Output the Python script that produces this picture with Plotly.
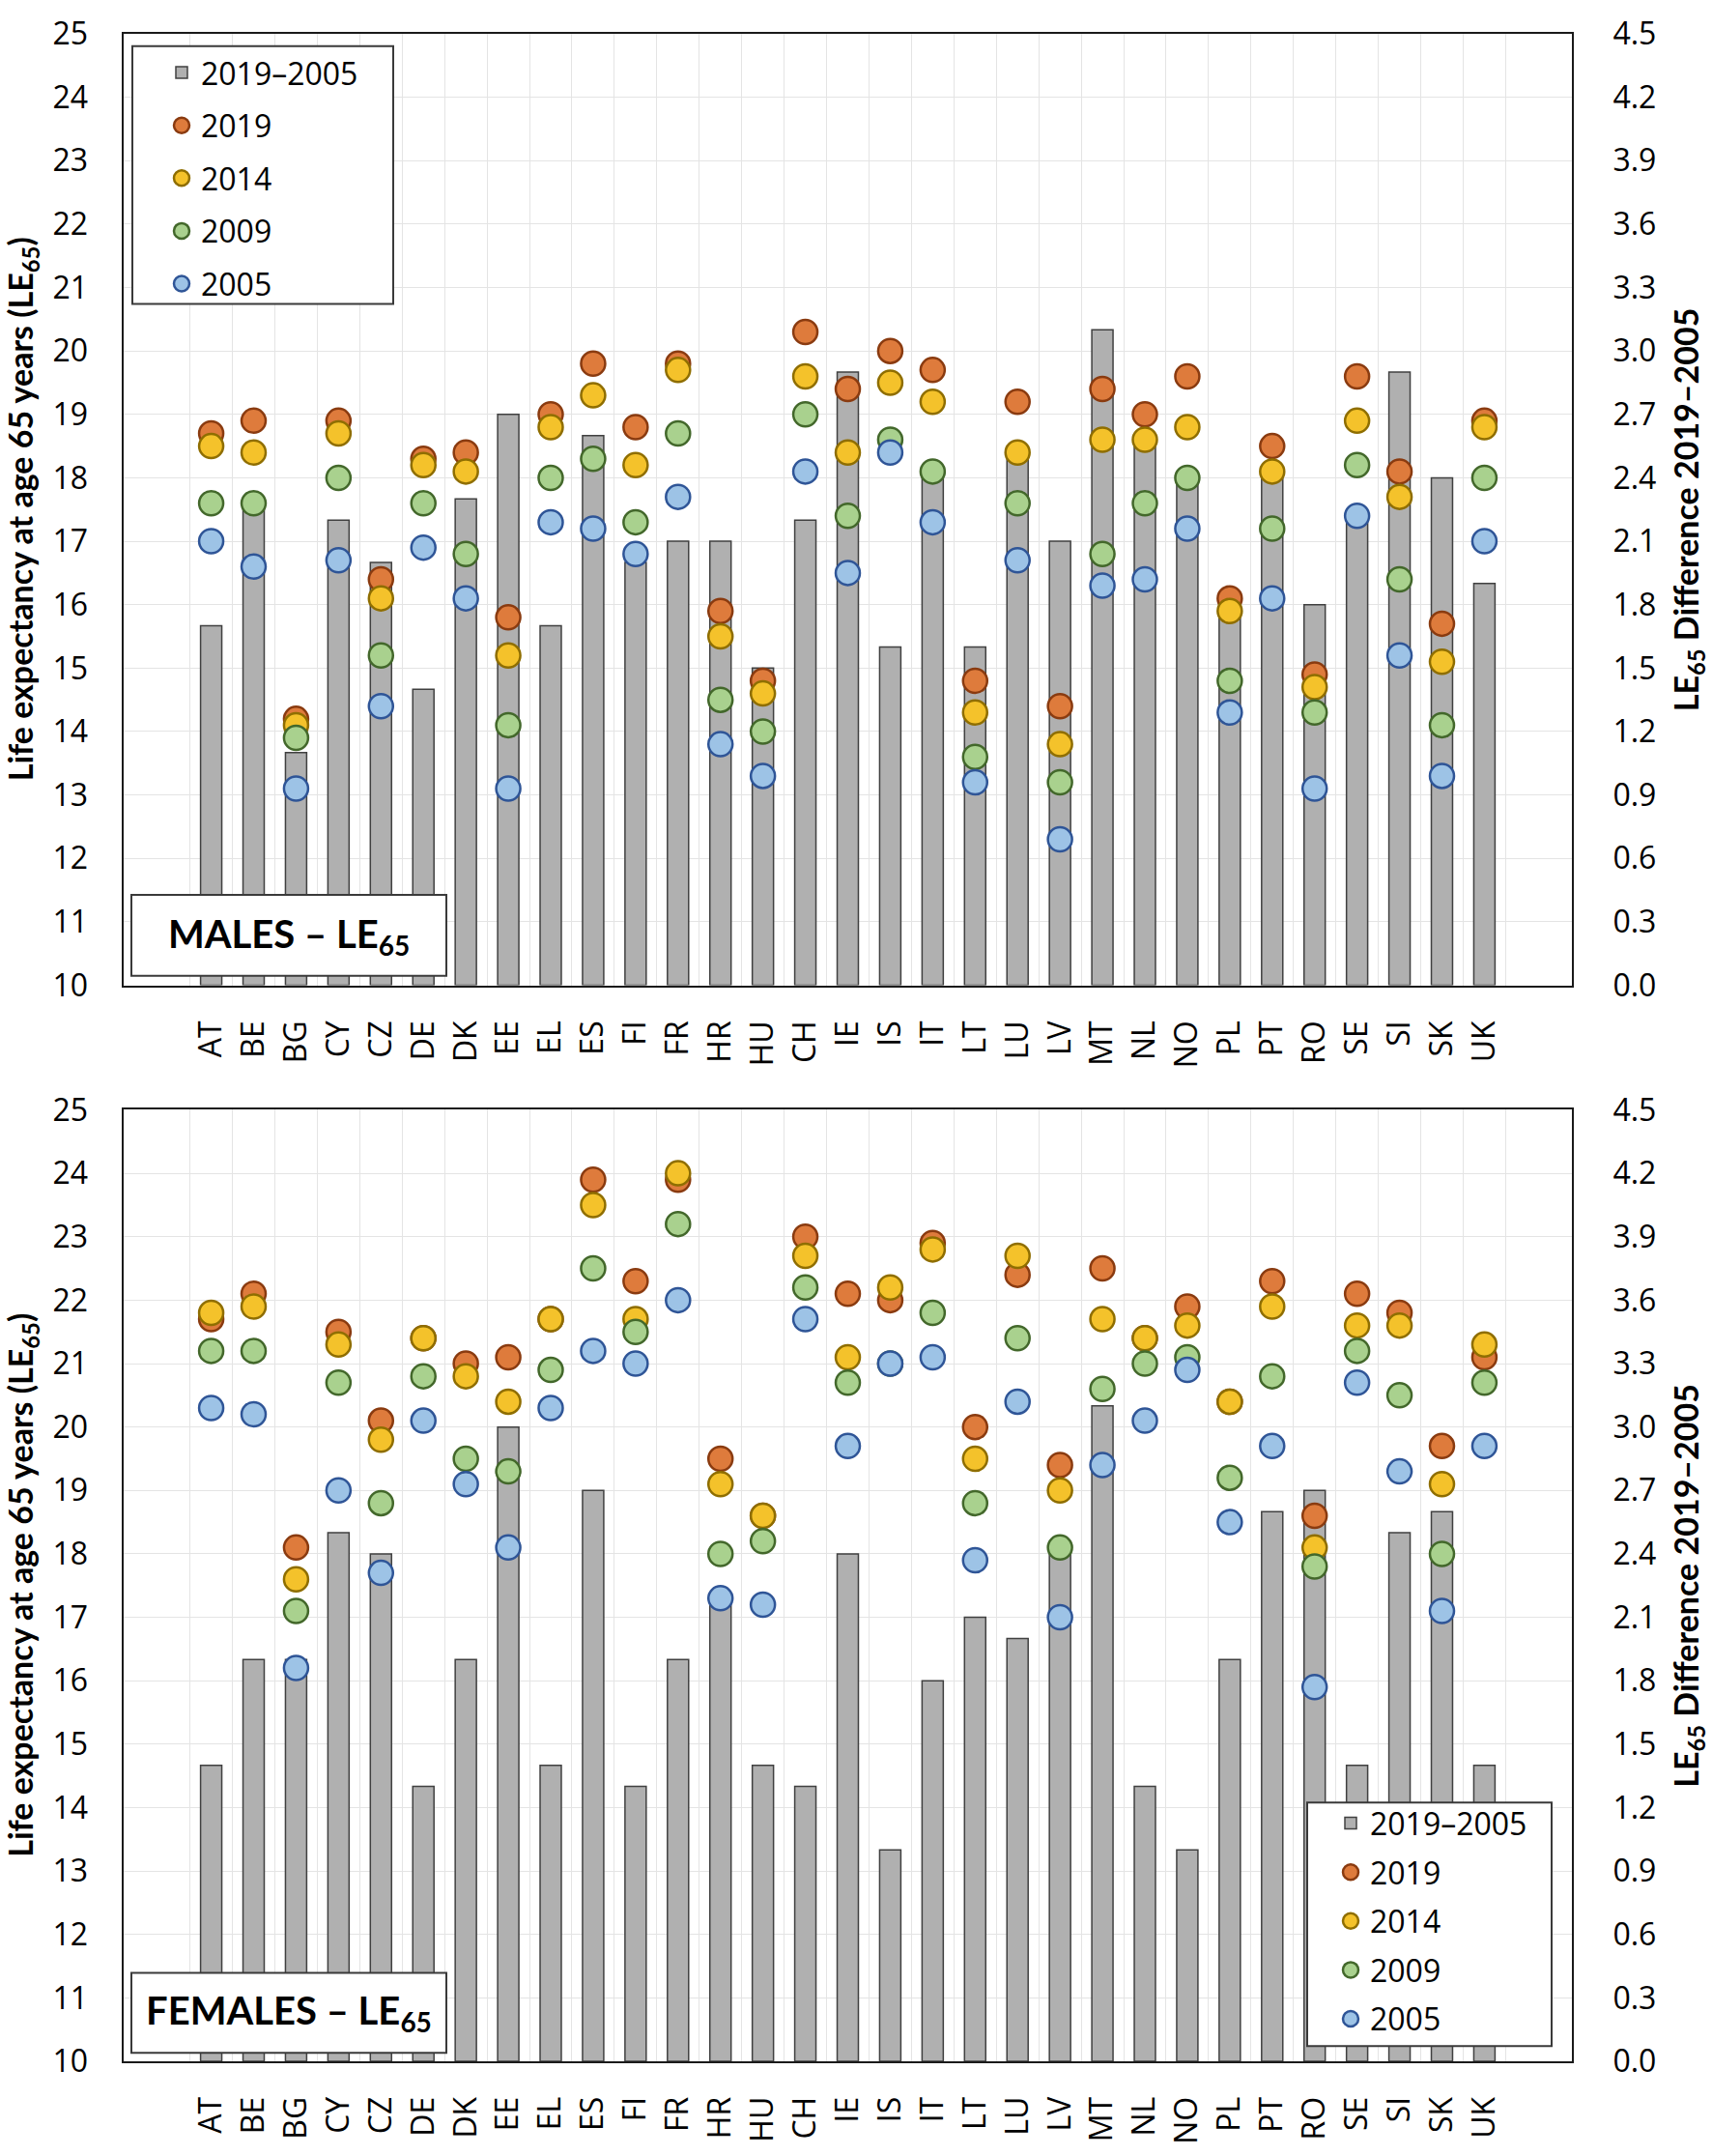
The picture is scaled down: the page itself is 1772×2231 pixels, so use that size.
import plotly.graph_objects as go

countries = ["AT", "BE", "BG", "CY", "CZ", "DE", "DK", "EE", "EL", "ES", "FI", "FR", "HR", "HU", "CH",
             "IE", "IS", "IT", "LT", "LU", "LV", "MT", "NL", "NO", "PL", "PT", "RO", "SE", "SI", "SK", "UK"]

# Males, LE65
m_2019 = [18.7, 18.9, 14.2, 18.9, 16.4, 18.3, 18.4, 15.8, 19.0, 19.8, 18.8, 19.8, 15.9, 14.8, 20.3,
          19.4, 20.0, 19.7, 14.8, 19.2, 14.4, 19.4, 19.0, 19.6, 16.1, 18.5, 14.9, 19.6, 18.1, 15.7, 18.9]
m_2014 = [18.5, 18.4, 14.1, 18.7, 16.1, 18.2, 18.1, 15.2, 18.8, 19.3, 18.2, 19.7, 15.5, 14.6, 19.6,
          18.4, 19.5, 19.2, 14.3, 18.4, 13.8, 18.6, 18.6, 18.8, 15.9, 18.1, 14.7, 18.9, 17.7, 15.1, 18.8]
m_2009 = [17.6, 17.6, 13.9, 18.0, 15.2, 17.6, 16.8, 14.1, 18.0, 18.3, 17.3, 18.7, 14.5, 14.0, 19.0,
          17.4, 18.6, 18.1, 13.6, 17.6, 13.2, 16.8, 17.6, 18.0, 14.8, 17.2, 14.3, 18.2, 16.4, 14.1, 18.0]
m_2005 = [17.0, 16.6, 13.1, 16.7, 14.4, 16.9, 16.1, 13.1, 17.3, 17.2, 16.8, 17.7, 13.8, 13.3, 18.1,
          16.5, 18.4, 17.3, 13.2, 16.7, 12.3, 16.3, 16.4, 17.2, 14.3, 16.1, 13.1, 17.4, 15.2, 13.3, 17.0]
m_diff = [1.7, 2.3, 1.1, 2.2, 2.0, 1.4, 2.3, 2.7, 1.7, 2.6, 2.0, 2.1, 2.1, 1.5, 2.2,
          2.9, 1.6, 2.4, 1.6, 2.5, 2.1, 3.1, 2.6, 2.4, 1.8, 2.4, 1.8, 2.2, 2.9, 2.4, 1.9]

# Females, LE65
f_2019 = [21.7, 22.1, 18.1, 21.5, 20.1, 21.4, 21.0, 21.1, 21.7, 23.9, 22.3, 23.9, 19.5, 18.6, 23.0,
          22.1, 22.0, 22.9, 20.0, 22.4, 19.4, 22.5, 21.4, 21.9, 20.4, 22.3, 18.6, 22.1, 21.8, 19.7, 21.1]
f_2014 = [21.8, 21.9, 17.6, 21.3, 19.8, 21.4, 20.8, 20.4, 21.7, 23.5, 21.7, 24.0, 19.1, 18.6, 22.7,
          21.1, 22.2, 22.8, 19.5, 22.7, 19.0, 21.7, 21.4, 21.6, 20.4, 21.9, 18.1, 21.6, 21.6, 19.1, 21.3]
f_2009 = [21.2, 21.2, 17.1, 20.7, 18.8, 20.8, 19.5, 19.3, 20.9, 22.5, 21.5, 23.2, 18.0, 18.2, 22.2,
          20.7, 21.0, 21.8, 18.8, 21.4, 18.1, 20.6, 21.0, 21.1, 19.2, 20.8, 17.8, 21.2, 20.5, 18.0, 20.7]
f_2005 = [20.3, 20.2, 16.2, 19.0, 17.7, 20.1, 19.1, 18.1, 20.3, 21.2, 21.0, 22.0, 17.3, 17.2, 21.7,
          19.7, 21.0, 21.1, 17.9, 20.4, 17.0, 19.4, 20.1, 20.9, 18.5, 19.7, 15.9, 20.7, 19.3, 17.1, 19.7]
f_diff = [1.4, 1.9, 1.9, 2.5, 2.4, 1.3, 1.9, 3.0, 1.4, 2.7, 1.3, 1.9, 2.2, 1.4, 1.3,
          2.4, 1.0, 1.8, 2.1, 2.0, 2.4, 3.1, 1.3, 1.0, 1.9, 2.6, 2.7, 1.4, 2.5, 2.6, 1.4]

years = ["2019", "2014", "2009", "2005"]
fills = ["#DE7B3C", "#F4C22B", "#A9D18E", "#9DC3E6"]
edges = ["#8A3B10", "#8F6E00", "#43682B", "#2F5597"]

FONT = "Open Sans"
W, H = 1772, 2231
L, R, T, B = 128, 145, 22, 78
PW, PH = W - L - R, H - T - B


def px_x(p):
    return (p - L) / PW


def px_y(p):
    return (H - B - p) / PH


fig = go.Figure()

panels = [
    (m_diff, [m_2019, m_2014, m_2009, m_2005], "x", "y", "y2", "legend"),
    (f_diff, [f_2019, f_2014, f_2009, f_2005], "x2", "y3", "y4", "legend2"),
]
for diff, series, xa, ya_bar, ya_dot, leg in panels:
    # bars sit on the base (right) axis so the dots on the overlay axis are drawn above them
    fig.add_trace(go.Bar(
        x=countries, y=diff, name="2019–2005", xaxis=xa, yaxis=ya_bar, legend=leg,
        legendgroup="d", marker=dict(color="#B0B0B0", line=dict(color="#404040", width=1.5)),
    ))
    for yr, vals, fc, ec in zip(years, series, fills, edges):
        fig.add_trace(go.Scatter(
            x=countries, y=vals, name=yr, mode="markers", xaxis=xa, yaxis=ya_dot, legend=leg,
            legendgroup=yr, marker=dict(size=25, color=fc, line=dict(color=ec, width=2.5)),
        ))

top_dom = [px_y(1022), 1.0]
bot_dom = [0.0, px_y(1153)]

xcommon = dict(
    domain=[0, 1], type="category", tickangle=-90, tickson="boundaries",
    showgrid=True, gridcolor="#E4E4E4", gridwidth=1,
    showline=True, linecolor="#1A1A1A", linewidth=2, mirror=True,
    tickfont=dict(family=FONT, size=32, color="black"), ticks="", ticklabelstandoff=22,
)
bar_axis = dict(
    side="right", range=[0, 4.5], dtick=0.3, tickformat=".1f",
    showgrid=True, gridcolor="#E4E4E4", gridwidth=1, zeroline=False,
    showline=True, linecolor="#1A1A1A", linewidth=2, mirror=True,
    tickfont=dict(family=FONT, size=32, color="black"), ticks="", ticklabelstandoff=34,
)
dot_axis = dict(
    side="left", range=[10, 25], dtick=1, showgrid=False, zeroline=False,
    tickfont=dict(family=FONT, size=32, color="black"), ticks="", ticklabelstandoff=36,
)

legend_common = dict(
    font=dict(family=FONT, size=32, color="black"), bgcolor="rgba(0,0,0,0)",
    borderwidth=0, xanchor="left", yanchor="top",
    itemclick=False, itemdoubleclick=False,
)

fig.update_layout(
    width=W, height=H, autosize=False,
    margin=dict(l=L, r=R, t=T, b=B),
    paper_bgcolor="white", plot_bgcolor="white",
    barmode="overlay", bargap=0.5,
    xaxis=dict(xcommon, anchor="y"),
    yaxis=dict(bar_axis, domain=top_dom, anchor="x"),
    yaxis2=dict(dot_axis, overlaying="y", anchor="x"),
    xaxis2=dict(xcommon, anchor="y3"),
    yaxis3=dict(bar_axis, domain=bot_dom, anchor="x2"),
    yaxis4=dict(dot_axis, overlaying="y3", anchor="x2"),
    legend=dict(legend_common, x=px_x(168), y=px_y(35), tracegroupgap=10),
    legend2=dict(legend_common, x=px_x(1378), y=px_y(1875), tracegroupgap=6),
    showlegend=True,
)

box_line = dict(color="#3A3A3A", width=2)
boxes = [
    (137, 407, 35, 306),
    (1353, 1606, 1881, 2137),
    (136, 462, 927, 1012),
    (136, 462, 2060, 2144),
]
for x0, x1, y0, y1 in boxes:
    fig.add_shape(type="rect", xref="paper", yref="paper",
                  x0=px_x(x0), x1=px_x(x1), y0=px_y(y1), y1=px_y(y0),
                  fillcolor="white", line=box_line, layer="above")

for label, yc in [("MALES – LE<sub>65</sub>", 970), ("FEMALES – LE<sub>65</sub>", 2102)]:
    fig.add_annotation(text="<b>" + label + "</b>", xref="paper", yref="paper",
                       x=px_x(299), y=px_y(yc), xanchor="center", yanchor="middle",
                       showarrow=False, font=dict(family="Lato", size=40, color="black"))

for yc in [522, 1653]:
    fig.add_annotation(text="<b>Life expectancy at age 65 years (LE<sub>65</sub>)</b>",
                       xref="paper", yref="paper", x=px_x(23), y=px_y(yc), textangle=-90,
                       xanchor="center", yanchor="middle",
                       showarrow=False, font=dict(family="Lato", size=34, color="black"))
    fig.add_annotation(text="<b>LE<sub>65</sub> Difference 2019–2005</b>",
                       xref="paper", yref="paper", x=px_x(1747), y=px_y(yc), textangle=-90,
                       xanchor="center", yanchor="middle",
                       showarrow=False, font=dict(family="Lato", size=34, color="black"))

fig.write_html("out.html", config={"displayModeBar": False},
               post_script="document.body.style.margin='0px';")
